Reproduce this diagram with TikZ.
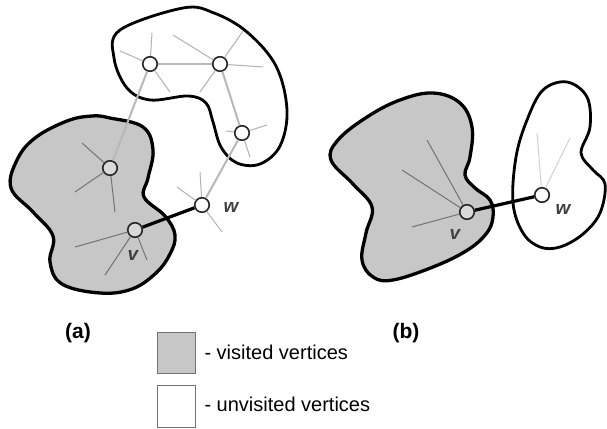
\documentclass[tikz,border=0pt]{standalone}
\usepackage{fontspec}
\setmainfont{Liberation Sans}
\begin{document}
\begin{tikzpicture}[x=1pt,y=-1pt,
  blob/.style={line width=3.3pt, line join=round},
  visited/.style={fill=black!22},
  vtx/.style={circle, draw=black!85, fill=white, line width=1.6pt, minimum size=14.5pt, inner sep=0pt},
  vvis/.style={vtx, fill=black!15},
  treeedge/.style={draw=black!28, line width=2pt},
  stubin/.style={draw=black!55, line width=1pt},
  stubout/.style={draw=black!30, line width=1pt},
  stubfaint/.style={draw=black!18, line width=1pt},
  link/.style={draw=black, line width=3.2pt},
  vlabel/.style={font=\fontsize{19}{19}\selectfont\bfseries\itshape, text=black!75},
  sublabel/.style={font=\fontsize{21}{21}\selectfont\bfseries},
  legend/.style={font=\fontsize{20}{20}\selectfont, anchor=west},
  legbox/.style={draw=black!55, line width=0.8pt}
]
\useasboundingbox (0,0) rectangle (607,428);
% ---------- (a) ----------
\draw[blob, visited] plot[smooth cycle, tension=0.65] coordinates {
  (110,118) (143,127) (153,150) (148,178) (144,197) (165,216) (175,235)
  (170,254) (156,273) (132,289) (100,293) (62,284) (50,262) (53,236)
  (33,212) (11,188) (17,160) (35,138) (67,121) (92,116)};
\draw[blob, line width=2.8pt, fill=white] plot[smooth cycle, tension=0.6] coordinates {
  (183,8) (214,13) (247,32) (276,66) (287,110) (280,146) (260,164)
  (237,163) (221,147) (213,122) (206,103) (188,96) (150,100) (127,88)
  (114,58) (120,30)};
\node[vtx] (a1) at (150,64) {};
\node[vtx] (a2) at (220,64) {};
\node[vtx] (a3) at (242,133) {};
\node[vtx] (aw) at (202,205) {};
\node[vvis] (ab) at (110,168) {};
\node[vvis] (av) at (135,230) {};
\foreach \n/\x/\y in {a1s1/120/51, a1s2/152/33, a1s3/170/92,
  a2s1/173/35, a2s2/243/31, a2s3/263/67, a2s4/200/92,
  a3s1/226/131, a3s2/267/125, a3s3/250/157,
  aws1/177/187, aws2/200/172, aws3/222/232,
  abs1/82/143, abs2/75/192, abs3/115/212,
  avs1/75/247, avs2/105/275, avs3/147/260}
  \coordinate (\n) at (\x,\y);
\draw[treeedge] (a1) -- (a2);
\draw[treeedge] (a2) -- (a3);
\draw[treeedge] (a3) -- (aw);
\draw[treeedge] (a1) -- (ab);
\foreach \s in {a1s1,a1s2,a1s3} \draw[stubout] (a1) -- (\s);
\foreach \s in {a2s1,a2s2,a2s3,a2s4} \draw[stubout] (a2) -- (\s);
\foreach \s in {a3s1,a3s2,a3s3} \draw[stubout] (a3) -- (\s);
\foreach \s in {aws1,aws2,aws3} \draw[stubout] (aw) -- (\s);
\foreach \s in {abs1,abs2,abs3} \draw[stubin] (ab) -- (\s);
\foreach \s in {avs1,avs2,avs3} \draw[stubin] (av) -- (\s);
\draw[link] (av) -- (aw);
\node[vlabel] (awl) at (231,207) {w};
\node[vlabel] (avl) at (133,255) {v};
% ---------- (b) ----------
\draw[blob, visited] plot[smooth cycle, tension=0.65] coordinates {
  (433,93) (460,103) (472,127) (470,157) (465,175) (475,188) (490,200)
  (493,217) (486,234) (466,251) (433,267) (393,280) (373,277) (362,260)
  (366,233) (372,207) (353,184) (331,160) (338,140) (367,117) (400,100)};
\draw[blob, line width=2.8pt, fill=white] plot[smooth cycle, tension=0.6] coordinates {
  (567,82) (587,97) (590,127) (581,153) (593,170) (605,184) (600,213)
  (583,234) (560,247) (540,247) (523,233) (513,203) (516,157) (527,120)
  (543,90)};
\node[vvis] (bv) at (467,212) {};
\node[vtx] (bw) at (542,195) {};
\coordinate (bvs1) at (427,140);
\coordinate (bvs2) at (402,170);
\coordinate (bvs3) at (412,227);
\coordinate (bws1) at (537,133);
\coordinate (bws2) at (570,138);
\foreach \s in {bvs1,bvs2,bvs3} \draw[stubin] (bv) -- (\s);
\foreach \s in {bws1,bws2} \draw[stubfaint] (bw) -- (\s);
\draw[link] (bv) -- (bw);
\node[vlabel] (bwl) at (563,209) {w};
\node[vlabel] (bvl) at (455,234) {v};
% ---------- labels and legend ----------
\node[sublabel] (la) at (78,333) {(a)};
\node[sublabel] (lb) at (406,333) {(b)};
\draw[legbox, visited] (157,332) rectangle (195,373);
\draw[legbox, fill=white] (157,385) rectangle (195,427);
\node[legend] (t1) at (201,352) {- visited vertices};
\node[legend] (t2) at (201,404) {- unvisited vertices};
\end{tikzpicture}
\end{document}
